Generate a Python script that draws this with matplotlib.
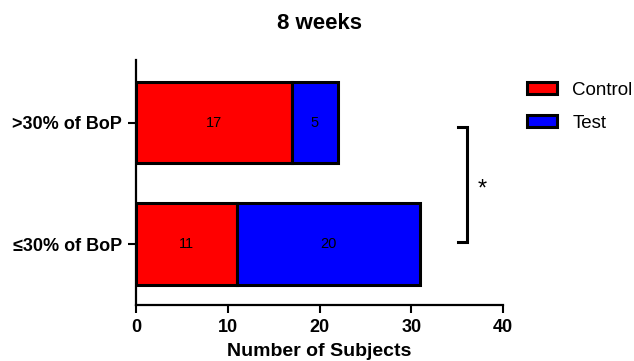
import matplotlib.pyplot as plt
from matplotlib.patches import Patch

plt.rcParams['font.family'] = ['Liberation Sans', 'DejaVu Sans']

categories = ["\u226430% of BoP", ">30% of BoP"]
control = [11, 17]
test = [20, 5]

fig = plt.figure(figsize=(6.34, 3.61), dpi=100)
ax = fig.add_axes([0.2145, 0.155, 0.579, 0.679])

ypos = [0, 1]
ax.barh(ypos, control, height=0.67, color="#ff0000", edgecolor="black", linewidth=2.2)
ax.barh(ypos, test, left=control, height=0.67, color="#0000ff", edgecolor="black", linewidth=2.2)

for y, c, t in zip(ypos, control, test):
    ax.text(c / 2, y, str(c), ha="center", va="center", fontsize=10.5)
    ax.text(c + t / 2, y, str(t), ha="center", va="center", fontsize=10.5)

ax.set_xlim(0, 40)
ax.set_ylim(-0.504, 1.52)
ax.set_xticks([0, 10, 20, 30, 40])
ax.set_yticks(ypos)
ax.set_yticklabels(categories)
for lbl in ax.get_xticklabels() + ax.get_yticklabels():
    lbl.set_fontweight("bold")
    lbl.set_fontsize(13)
ax.tick_params(width=1.5, length=6, pad=4)

for s in ["top", "right"]:
    ax.spines[s].set_visible(False)
for s in ["left", "bottom"]:
    ax.spines[s].set_linewidth(1.6)

ax.set_xlabel("Number of Subjects", fontsize=14, fontweight="bold", labelpad=5)
ax.set_title("8 weeks", fontsize=16, fontweight="bold", pad=22)

# significance bracket
ax.plot([35.1, 36.1, 36.1, 35.1], [0.97, 0.97, 0.02, 0.02], color="black",
        linewidth=2.2, clip_on=False, solid_joinstyle="miter")
ax.text(37.7, 0.45, "*", fontsize=17, ha="center", va="center")

handles = [Patch(facecolor="#ff0000", edgecolor="black", linewidth=2.2, label="Control"),
           Patch(facecolor="#0000ff", edgecolor="black", linewidth=2.2, label="Test")]
fig.legend(handles=handles, loc="upper left", bbox_to_anchor=(0.832, 0.773),
           frameon=False, fontsize=13.5, handlelength=1.6, handleheight=0.6,
           handletextpad=0.8, labelspacing=0.85, borderaxespad=0, borderpad=0)

fig.savefig("out.png", dpi=100)
